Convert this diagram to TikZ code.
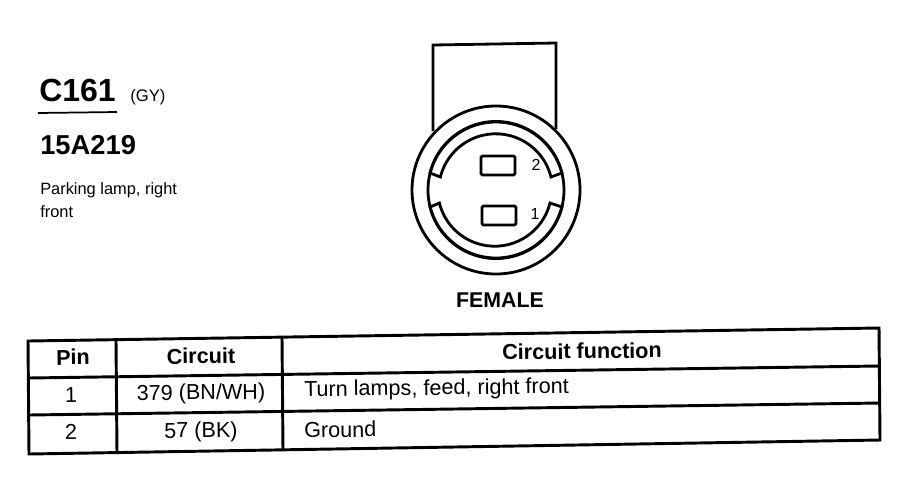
\documentclass[tikz,border=0pt]{standalone}
\usepackage{fontspec}
\setmainfont{Liberation Sans}
\tikzset{
  heavy/.style={line width=2.1pt,black},
  thick line/.style={line width=2.2pt,black},
  cell/.style={font=\fontsize{16.2}{16.2}\selectfont,rotate=0.7,inner sep=0pt},
  cellbold/.style={cell,font=\fontsize{16.2}{16.2}\selectfont\bfseries},
  left cell/.style={cell,anchor=west},
}
\begin{document}
\begin{tikzpicture}[x=0.75pt,y=-0.75pt]
        \useasboundingbox (0,0) rectangle (898,480);
        % connector body
        \draw[heavy] (433,131)--(433,45)--(556,43)--(556,129);
        \draw[heavy] (496,190) circle [radius=84];
        \draw[heavy] (496,190) circle [radius=68];
        % keys (y runs down here, so the arcs turn the other way)
        \draw[heavy] (430,173) arc [start angle=194, end angle=346, radius=68]
          -- (551,177) arc [start angle=346, end angle=194, radius=57] -- cycle;
        \draw[heavy] (430,207) arc [start angle=166, end angle=14, radius=68]
          -- (550,203) arc [start angle=14, end angle=166, radius=57] -- cycle;
        % terminals
        \draw[heavy,rounded corners=1pt] (481,156) rectangle (515,175);
        \draw[heavy,rounded corners=1pt] (482,206) rectangle (516,225);
        \node[font=\fontsize{12}{12}\selectfont,inner sep=0pt] (pintwo) at (536,165) {2};
        \node[font=\fontsize{12}{12}\selectfont,inner sep=0pt] (pinone) at (535,214) {1};
        \node[font=\fontsize{16}{16}\selectfont\bfseries,inner sep=0pt] (gender) at (500,300) {FEMALE};
        % title block
        \node[font=\fontsize{24}{24}\selectfont\bfseries,anchor=west,inner sep=0pt] (connid) at (39,90) {C161};
        \node[font=\fontsize{12.5}{12.5}\selectfont,anchor=west,inner sep=0pt] (colour) at (130,97) {(GY)};
        \draw[line width=1.3pt] (38,113)--(117,112);
        \node[font=\fontsize{20.5}{20.5}\selectfont\bfseries,anchor=west,inner sep=0pt] (partno) at (40,145) {15A219};
        \node[font=\fontsize{12.3}{14}\selectfont,anchor=west,inner sep=0pt] (desc) at (40,190) {Parking lamp, right};
        \node[font=\fontsize{12.3}{14}\selectfont,anchor=west,inner sep=0pt] (descb) at (40,212) {front};
        % table
        \draw[thick line] (28,341)--(879,328)--(880,440)--(29,454)--cycle;
        \draw[thick line] (28,378)--(879,366);
        \draw[thick line] (29,415)--(880,403);
        \draw[thick line] (116,340)--(117,453);
        \draw[thick line] (282,338)--(283,450);
        \node[cellbold] (headpin) at (73,357) {Pin};
        \node[cellbold] (headcircuit) at (201,356) {Circuit};
        \node[cellbold] (headfunction) at (582,351) {Circuit function};
        \node[cell] (pina) at (71,395) {1};
        \node[cell] (circa) at (201,394) {379 (BN/WH)};
        \node[left cell] (funca) at (304,391) {Turn lamps, feed, right front};
        \node[cell] (pinb) at (71,432) {2};
        \node[cell] (circb) at (201,432) {57 (BK)};
        \node[left cell] (funcb) at (304,430) {Ground};
\end{tikzpicture}
\end{document}
